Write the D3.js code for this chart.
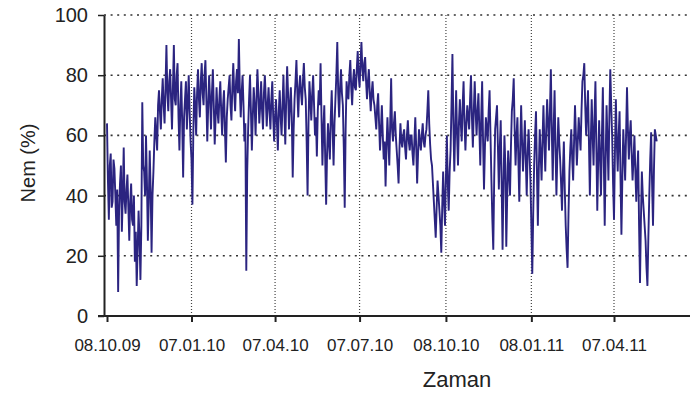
<!DOCTYPE html>
<html>
<head>
<meta charset="utf-8">
<script src="https://cdn.jsdelivr.net/npm/d3@7"></script>
<style>
  body { margin: 0; background: #fff; }
  svg { display: block; font-family: "Liberation Sans", Arial, sans-serif; }
</style>
</head>
<body>
<div id="chart"></div>
<script>
// daily humidity readings starting 08.10.09
const startDate = "2009-10-08";
const stepDays = 1;
const nem = [
  64, 45, 32, 50, 54, 36, 38, 52, 49, 40,   30, 42, 8, 35, 44, 50, 28, 40, 56, 38,
  34, 42, 47, 36, 25, 38, 44, 32, 30, 40,   18, 28, 10, 22, 35, 26, 12, 30, 71, 50,
  48, 40, 60, 45, 25, 38, 55, 42, 21, 40,   48, 58, 66, 60, 55, 70, 75, 68, 62, 72,
  79, 70, 64, 76, 90, 74, 68, 78, 82, 72,   62, 76, 90, 72, 70, 80, 84, 66, 55, 70,
  78, 64, 46, 66, 72, 78, 62, 70, 80, 68,   58, 52, 37, 62, 76, 70, 60, 74, 82, 72,
  66, 78, 84, 74, 70, 80, 85, 72, 58, 70,   80, 72, 62, 74, 82, 70, 57, 66, 76, 68,
  64, 72, 78, 68, 60, 70, 75, 62, 51, 66,   72, 76, 80, 70, 65, 76, 84, 74, 68, 78,
  82, 74, 92, 76, 66, 74, 80, 70, 58, 64,   15, 48, 62, 72, 80, 68, 55, 66, 76, 70,
  60, 72, 82, 74, 64, 70, 78, 68, 62, 74,   80, 72, 63, 70, 76, 68, 62, 72, 78, 66,
  58, 66, 72, 64, 55, 68, 75, 66, 60, 70,   80, 68, 57, 72, 83, 74, 62, 70, 76, 66,
  46, 62, 72, 78, 85, 74, 66, 76, 80, 74,   70, 78, 84, 76, 72, 58, 40, 64, 78, 72,
  65, 74, 80, 70, 60, 66, 53, 68, 75, 70,   84, 66, 50, 62, 70, 52, 37, 54, 64, 58,
  52, 66, 75, 62, 50, 64, 72, 80, 91, 74,   66, 76, 82, 74, 70, 56, 36, 62, 78, 74,
  72, 80, 85, 76, 70, 78, 82, 76, 75, 82,   88, 80, 76, 84, 91, 82, 78, 84, 86, 78,
  72, 78, 82, 74, 68, 74, 78, 72, 70, 66,   62, 70, 74, 64, 55, 62, 70, 60, 52, 58,
  43, 56, 66, 58, 50, 64, 79, 62, 58, 64,   68, 60, 55, 50, 44, 56, 64, 58, 56, 60,
  62, 56, 52, 60, 65, 58, 55, 60, 60, 54,   50, 58, 66, 56, 44, 54, 62, 58, 55, 60,
  64, 58, 56, 60, 62, 68, 75, 64, 57, 52,   50, 44, 38, 32, 26, 36, 45, 40, 35, 30,
  21, 36, 48, 38, 30, 46, 60, 44, 35, 48,   55, 70, 87, 64, 48, 62, 75, 60, 50, 64,
  72, 64, 58, 70, 78, 64, 55, 64, 70, 66,   62, 72, 80, 66, 56, 68, 78, 68, 60, 68,
  74, 62, 50, 66, 78, 58, 42, 56, 66, 62,   58, 68, 75, 60, 45, 32, 22, 46, 62, 66,
  70, 56, 42, 56, 65, 44, 22, 44, 60, 50,   23, 40, 55, 48, 40, 56, 68, 72, 79, 62,
  50, 60, 66, 52, 38, 56, 70, 58, 48, 56,   65, 52, 40, 54, 62, 54, 45, 30, 14, 34,
  50, 60, 68, 48, 30, 48, 62, 54, 45, 58,   70, 58, 48, 62, 72, 64, 55, 68, 82, 62,
  45, 62, 75, 56, 40, 54, 66, 58, 52, 44,   35, 48, 58, 42, 30, 22, 16, 34, 48, 56,
  62, 52, 45, 58, 70, 60, 50, 58, 66, 60,   55, 68, 78, 80, 84, 70, 60, 68, 75, 58,
  40, 58, 72, 60, 50, 66, 78, 56, 35, 52,   65, 52, 40, 60, 76, 52, 30, 52, 70, 58,
  45, 66, 82, 70, 60, 44, 32, 54, 72, 58,   48, 60, 68, 46, 27, 46, 62, 54, 45, 60,
  76, 62, 52, 60, 65, 54, 45, 52, 60, 48,   38, 48, 55, 30, 11, 32, 48, 40, 35, 30,
  25, 16, 10, 26, 40, 52, 61, 44, 30, 48,   62, 60, 58
];
const xTicks = ["2009-10-08", "2010-01-07", "2010-04-07", "2010-07-07", "2010-10-08", "2011-01-08", "2011-04-07"];
const yTicks = [0, 20, 40, 60, 80, 100];

const W = 690, H = 393;
const parse = d3.utcParse("%Y-%m-%d");
const fmt = d3.utcFormat("%d.%m.%y");

const t0 = parse(startDate);
const data = nem.map((v, i) => ({ date: d3.utcDay.offset(t0, i * stepDays), value: v }));
const tickDates = xTicks.map(parse);

const axisX = 104, axisY = 316, topY = 15, rightX = W;

const x = d3.scaleUtc()
  .domain([tickDates[0], tickDates[tickDates.length - 1]])
  .range([107, 614]);

const y = d3.scaleLinear()
  .domain([0, 100])
  .range([axisY, topY]);

const svg = d3.select('#chart')
  .append('svg')
  .attr('width', W)
  .attr('height', H);

// horizontal dotted grid
svg.append('g')
  .selectAll('line')
  .data(yTicks.filter(d => d > 0))
  .enter()
  .append('line')
  .attr('x1', axisX)
  .attr('x2', rightX)
  .attr('y1', d => y(d))
  .attr('y2', d => y(d))
  .attr('stroke', '#333')
  .attr('stroke-width', 1.6)
  .attr('stroke-dasharray', '2,4.6');

// vertical dotted grid
svg.append('g')
  .selectAll('line')
  .data(tickDates.slice(1))
  .enter()
  .append('line')
  .attr('x1', d => x(d))
  .attr('x2', d => x(d))
  .attr('y1', topY)
  .attr('y2', axisY)
  .attr('stroke', '#444')
  .attr('stroke-width', 1.2)
  .attr('stroke-dasharray', '1,2');

const line = d3.line()
  .x(d => x(d.date))
  .y(d => y(d.value));

svg.append('path')
  .datum(data)
  .attr('d', line)
  .attr('fill', 'none')
  .attr('stroke', '#2b2480')
  .attr('stroke-width', 1.9);

// y axis
const yAxis = svg.append('g')
  .attr('transform', `translate(${axisX},0)`)
  .call(d3.axisLeft(y).tickValues(yTicks).tickSize(6).tickSizeOuter(0).tickPadding(10));
yAxis.select('.domain').attr('stroke', '#222').attr('stroke-width', 2);
yAxis.selectAll('.tick line').attr('stroke', '#222').attr('stroke-width', 1.5);
yAxis.selectAll('.tick text')
  .attr('font-size', 20)
  .attr('font-family', '"Liberation Sans", Arial, sans-serif')
  .attr('fill', '#222');

// x axis
const xAxis = svg.append('g')
  .attr('transform', `translate(0,${axisY})`)
  .call(d3.axisBottom(x).tickValues(tickDates).tickFormat(fmt).tickSize(6).tickSizeOuter(0).tickPadding(17));
xAxis.select('.domain').remove();
xAxis.append('line')
  .attr('x1', axisX - 6)
  .attr('x2', rightX)
  .attr('stroke', '#222')
  .attr('stroke-width', 2);
xAxis.selectAll('.tick line').attr('stroke', '#222').attr('stroke-width', 2);
xAxis.selectAll('.tick text')
  .attr('font-size', 17)
  .attr('font-family', '"Liberation Sans", Arial, sans-serif')
  .attr('fill', '#222');

svg.append('text')
  .attr('x', 457)
  .attr('y', 387)
  .attr('text-anchor', 'middle')
  .attr('font-size', 22)
  .attr('fill', '#222')
  .text('Zaman');

svg.append('text')
  .attr('transform', 'translate(35,163) rotate(-90)')
  .attr('text-anchor', 'middle')
  .attr('font-size', 20)
  .attr('fill', '#222')
  .text('Nem (%)');
</script>
</body>
</html>
